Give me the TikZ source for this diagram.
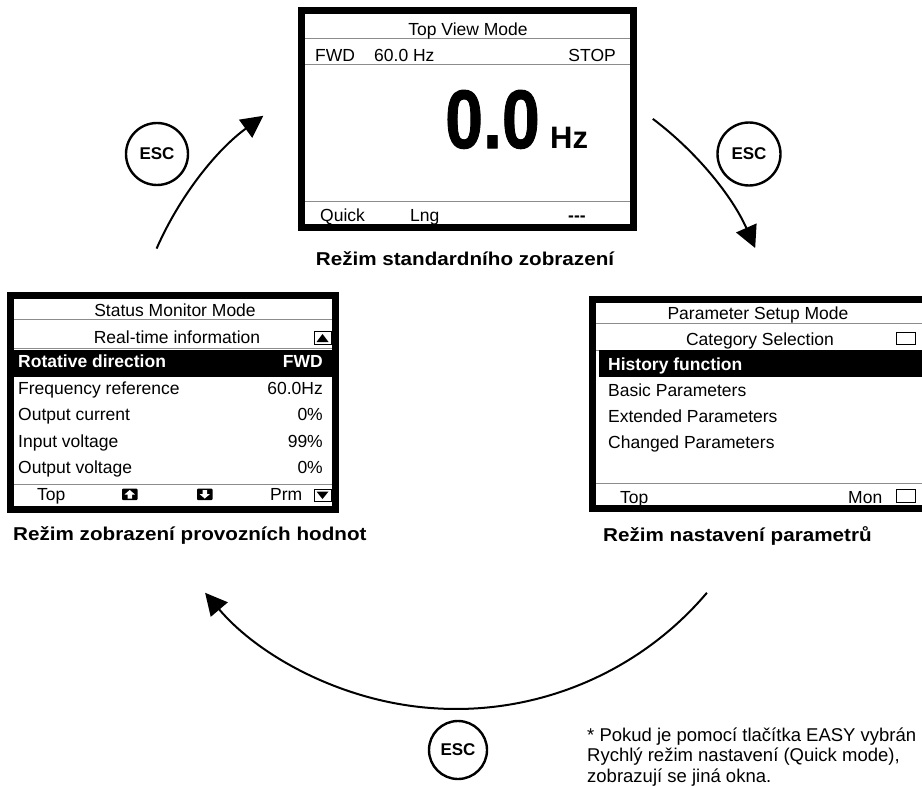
\documentclass[tikz,border=0pt]{standalone}
\usepackage{fontspec}
\setmainfont{Liberation Sans}
\usetikzlibrary{arrows.meta}
\begin{document}
\begin{tikzpicture}[x=1pt,y=1pt,
  scrframe/.style={draw=black, line width=7pt},
  sepline/.style={draw=black!45, line width=0.9pt},
  scrtxt/.style={inner sep=0pt, font=\fontsize{17.5}{20}\selectfont},
  tw/.style={scrtxt, anchor=base west},
  te/.style={scrtxt, anchor=base east},
  tc/.style={scrtxt, anchor=base},
  hl/.style={scrtxt, anchor=base west, text=white, font=\bfseries\fontsize{17.5}{20}\selectfont},
  hle/.style={hl, anchor=base east},
  captxt/.style={inner sep=0pt, font=\bfseries\fontsize{18.6}{22}\selectfont},
  esc/.style={circle, draw=black, line width=2.4pt, inner sep=0pt, font=\bfseries\fontsize{17}{19}\selectfont},
  arr/.style={line width=2pt, -{Triangle[length=22pt,width=22pt]}},
  ibox/.style={draw=black, line width=0.9pt, fill=white},
]
\useasboundingbox (0,0) rectangle (922,-787);

% ---------------- top screen ----------------
\draw[scrframe] (301.5,-10.5) rectangle (633.5,-227.5);
\draw[sepline] (305,-38) -- (630,-38);
\draw[sepline] (305,-64) -- (630,-64);
\draw[sepline] (305,-201) -- (630,-201);
\node[tc] (tvm) at (468,-35) {Top View Mode};
\node[tw] (tfwd) at (315,-61) {FWD};
\node[tw] (thz) at (374,-61) {60.0 Hz};
\node[te] (tstop) at (616,-61) {STOP};
\node[anchor=base west, inner sep=0pt, font=\bfseries\fontsize{83}{90}\selectfont] (big) at (445,-148) {\addfontfeature{FakeBold=1.2}\scalebox{0.82}[1]{0.0}};
\node[anchor=base west, inner sep=0pt, font=\bfseries\fontsize{31}{34}\selectfont] (bighz) at (550,-148) {Hz};
\node[tw] (tquick) at (320,-221) {Quick};
\node[tw] (tlng) at (410,-221) {Lng};
\node[tw, font=\bfseries\fontsize{17.5}{20}\selectfont] (tdash) at (568,-221) {-{}-{}-};
\node[captxt, anchor=base] (captop) at (465,-265) {\scalebox{1.11}[1]{Režim standardního zobrazení}};

% ---------------- left screen ----------------
\draw[scrframe] (10.5,-295.5) rectangle (335.5,-509.5);
\draw[sepline] (14,-319) -- (332,-319);
\draw[sepline] (14,-348) -- (332,-348);
\draw[sepline] (14,-484) -- (332,-484);
\fill[black] (14,-350) rectangle (332,-377);
\node[tc] (smm) at (175,-316) {Status Monitor Mode};
\node[tc] (rti) at (177,-343) {Real-time information};
\draw[ibox] (314,-331) rectangle (331,-344);
\fill[black] (316.5,-342) -- (328.5,-342) -- (322.5,-334) -- cycle;
\node[hl] (rd) at (18,-367) {Rotative direction};
\node[hle] (rdv) at (323,-367) {FWD};
\node[tw] (fr) at (18,-394) {Frequency reference};
\node[te] (frv) at (323,-394) {60.0Hz};
\node[tw] (oc) at (18,-420) {Output current};
\node[te] (ocv) at (323,-420) {0\%};
\node[tw] (iv) at (18,-447) {Input voltage};
\node[te] (ivv) at (323,-447) {99\%};
\node[tw] (ov) at (18,-473) {Output voltage};
\node[te] (ovv) at (323,-473) {0\%};
\node[tw] (ltop) at (37,-500) {Top};
\fill[black, rounded corners=1pt] (122,-488.5) rectangle (137.5,-500);
\fill[white] (129.75,-490) -- (135,-494.5) -- (132,-494.5) -- (132,-498.5) -- (127.5,-498.5) -- (127.5,-494.5) -- (124.5,-494.5) -- cycle;
\fill[black, rounded corners=1pt] (197,-488.5) rectangle (212.5,-500);
\fill[white] (204.75,-498.5) -- (210,-494) -- (207,-494) -- (207,-490) -- (202.5,-490) -- (202.5,-494) -- (199.5,-494) -- cycle;
\node[tw] (prm) at (270,-500) {Prm};
\draw[ibox] (314,-489) rectangle (331,-501);
\fill[black] (316.5,-491.5) -- (328.5,-491.5) -- (322.5,-499) -- cycle;
\node[captxt, anchor=base west] (capleft) at (13,-540) {\scalebox{1.11}[1]{Režim zobrazení provozních hodnot}};

% ---------------- right screen ----------------
\draw[scrframe] (592.5,-299.5) rectangle (925.5,-508.5);
\draw[sepline] (596,-323) -- (922,-323);
\draw[sepline] (596,-350) -- (922,-350);
\draw[sepline] (596,-483) -- (922,-483);
\fill[black] (599,-350) rectangle (922,-377);
\node[tc] (psm) at (758,-319) {Parameter Setup Mode};
\node[tc] (cs) at (760,-345) {Category Selection};
\draw[ibox] (896,-332) rectangle (915,-344);
\node[hl] (hf) at (608,-370) {History function};
\node[tw] (bp) at (608,-396) {Basic Parameters};
\node[tw] (ep) at (608,-422) {Extended Parameters};
\node[tw] (cp) at (608,-448) {Changed Parameters};
\node[tw] (rtop) at (620,-503) {Top};
\node[tw] (mon) at (848,-503) {Mon};
\draw[ibox] (896,-489) rectangle (915,-502);
\node[captxt, anchor=base west] (capright) at (603,-541) {\scalebox{1.11}[1]{Režim nastavení parametrů}};

% ---------------- ESC buttons ----------------
\node[esc, minimum size=62pt] (esc1) at (157,-154) {ESC};
\node[esc, minimum size=63pt] (esc2) at (749,-154) {ESC};
\node[esc, minimum size=58pt] (esc3) at (458,-750) {ESC};

% ---------------- arrows (one big circle) ----------------
\coordinate (C) at (456,-380);
\coordinate (a1s) at ([shift={(156.3:327)}]C);
\coordinate (a2s) at ([shift={(53:327)}]C);
\coordinate (a3s) at ([shift={(-40.3:329)}]C);
\draw[arr] (a1s) arc[start angle=156.3, end angle=126.1, radius=327];
\draw[arr] (a2s) arc[start angle=53, end angle=23.8, radius=327];
\draw[arr] (a3s) arc[start angle=-40.3, end angle=-139.7, radius=329];

% ---------------- footnote ----------------
\node[anchor=base west, inner sep=0pt, align=left, font=\fontsize{18.5}{20.5}\selectfont] (note) at (587,-782)
  {* Pokud je pomocí tlačítka EASY vybrán\\Rychlý režim nastavení (Quick mode),\\zobrazují se jiná okna.};
\end{tikzpicture}
\end{document}
